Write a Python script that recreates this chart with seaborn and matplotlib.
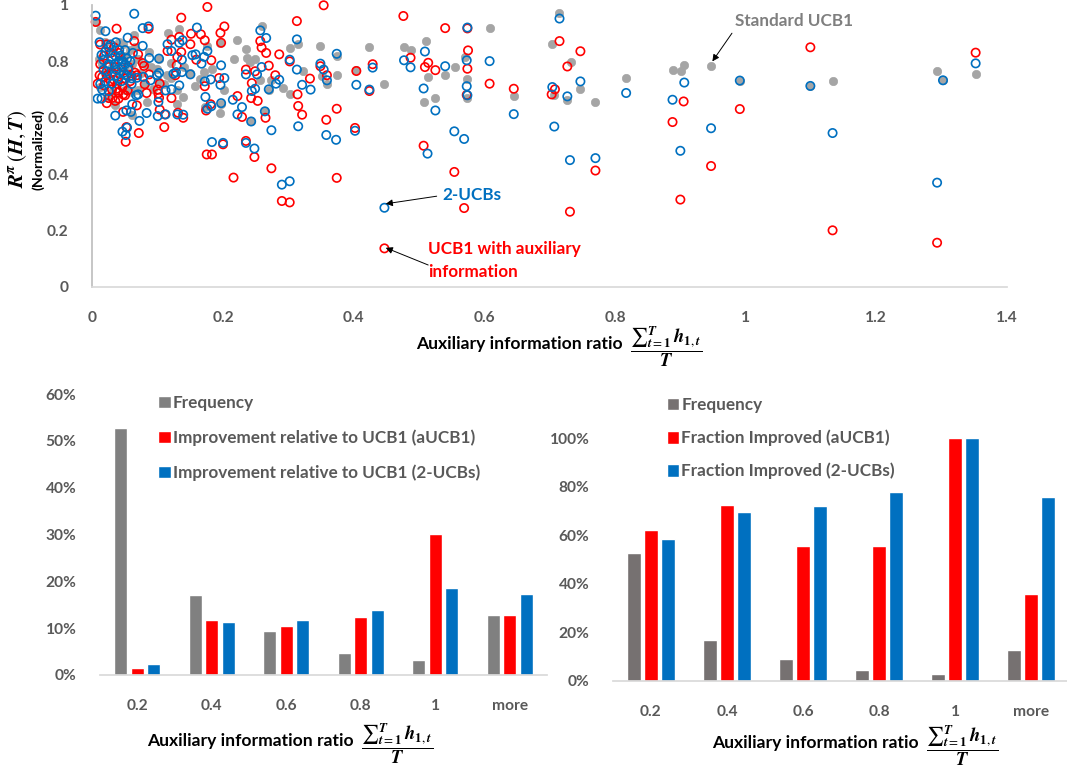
import pandas as pd
import seaborn as sns
import matplotlib.pyplot as plt
from matplotlib.ticker import PercentFormatter

# Top scatter: x = auxiliary information ratio, y = normalized regret
gris_x = [.005, .012, .064, .115, .133, .259, .222, .235, .302, .349, .314, .176, .196, .236, .249, .242, .216, .086,
          .102, .121, .183, .171, .165, .157, .139, .129, .114, .099, .083, .093, .202, .196, .173, .197, .243, .264,
          .257, .270, .273, .291, .302, .322, .359, .351, .374, .374, .035, .060, .022, .047, .058, .037,
          .02, .03, .04, .01, .015, .02, .03, .04, .05, .06, .07, .075, .08, .06, .07, .05, .03, .05, .012, .04,
          .065, .08, .09, .1, .11, .12, .14, .15, .13,
          .715, .608, .510, .424, .477, .487, .704, .570, .732, .555, .573, .514, .540, .404, .447, .747, .525, .507,
          .574, .645, .707, .727, .770, .817, .888, .901, .906,
          .947, .991, 1.099, 1.133, 1.293, 1.302, 1.352]
gris_y = [.940, .910, .892, .901, .916, .924, .875, .843, .848, .853, .863, .853, .865, .813, .810, .798, .809, .833,
          .810, .794, .774, .762, .736, .713, .674, .650, .753, .774, .656, .703, .700, .617, .638, .650, .587, .624,
          .733, .700, .733, .707, .686, .765, .721, .747, .751, .818, .644, .609, .674, .863, .839, .768,
          .87, .84, .87, .81, .79, .76, .78, .76, .77, .79, .81, .76, .72, .69, .70, .70, .69, .82, .71, .82,
          .85, .79, .78, .73, .72, .74, .78, .76, .70,
          .972, .918, .871, .851, .850, .842, .863, .816, .799, .781, .739, .746, .752, .771, .719, .701, .669, .655,
          .670, .676, .681, .664, .655, .741, .770, .766, .788,
          .784, .732, .713, .730, .766, .733, .754]

rojo_x = [.005, .037, .086, .136, .176, .202, .196, .197, .354, .313, .257, .259, .266, .286, .302, .270, .151, .166,
          .172, .133, .121, .150, .136, .115, .159, .182, .064, .070, .077, .079, .130, .129, .127, .103, .194, .235,
          .249, .244, .280, .349, .359, .333, .314, .315, .321, .374, .358, .374, .172, .222, .243, .253, .265, .229,
          .174, .181, .139, .131, .121, .110, .111, .103, .101, .100, .102, .083, .080, .087, .068, .071, .068, .052,
          .051, .047, .054, .047, .022, .037, .031, .040, .008, .011, .175, .183, .200, .235, .248, .216, .274, .290,
          .302,
          .012, .018, .022, .028, .033, .04, .045, .025, .03, .035, .022, .028, .033, .038, .042, .05, .055, .06,
          .065, .058, .03, .04, .046, .015, .018, .025, .035, .05, .012,
          .476, .540, .574, .715, .747, .575, .487, .514, .509, .525, .574, .429, .404, .424, .608, .645, .727, .708,
          .703, .573, .905, .888, .402, .507, .554, .770, .569, .731, .900, .447,
          1.099, .991, .947, 1.133, 1.293, 1.352]
rojo_y = [.940, .916, .916, .955, .993, .924, .901, .866, .999, .943, .872, .849, .830, .825, .800, .785, .898, .896,
          .875, .887, .877, .861, .833, .837, .806, .804, .872, .825, .794, .784, .816, .786, .751, .721, .741, .771,
          .765, .723, .751, .783, .751, .739, .683, .642, .611, .632, .593, .387, .712, .677, .670, .660, .600, .603,
          .626, .648, .600, .618, .670, .567, .612, .629, .686, .700, .671, .688, .719, .754, .751, .546, .644, .567,
          .515, .621, .697, .683, .652, .703, .671, .668, .721, .751, .470, .470, .506, .518, .461, .388, .421, .305,
          .300,
          .79, .82, .86, .83, .85, .83, .80, .78, .76, .78, .75, .73, .735, .72, .755, .74, .78, .75,
          .76, .73, .70, .69, .71, .745, .715, .67, .66, .68, .86,
          .961, .918, .917, .872, .836, .839, .813, .795, .780, .769, .774, .790, .766, .695, .721, .703, .782, .701,
          .683, .681, .658, .585, .564, .501, .408, .413, .280, .267, .310, .137,
          .850, .631, .429, .201, .157, .831]

azul_x = [.005, .064, .020, .077, .086, .011, .036, .054, .077, .160, .115, .121, .133, .138, .137, .153, .158, .171,
          .176, .167, .197, .257, .266, .259, .302, .313, .313, .349, .354, .359, .374, .087, .102, .102, .124, .128,
          .137, .150, .068, .078, .089, .099, .112, .121, .133, .101, .100, .112, .130, .139, .172, .181, .202, .196,
          .173, .176, .182, .197, .215, .229, .222, .243, .264, .274, .315, .358, .373, .235, .252, .244, .249, .270,
          .281, .286, .321, .334, .183, .200, .235, .248, .290, .302, .070, .067, .008, .014, .035, .059, .052, .061,
          .072, .083, .046, .053, .051,
          .014, .017, .020, .025, .030, .034, .037, .040, .043, .045, .048, .050, .053, .035, .040, .045, .030, .020,
          .015, .025, .058, .062, .055, .060, .028, .017, .022, .050, .041, .012, .025, .06, .035, .047, .052,
          .574, .715, .509, .477, .487, .540, .573, .608, .429, .404, .424, .507, .573, .574, .704, .727, .747, .817,
          .906, .888, .525, .645, .402, .554, .569, .707, .513, .731, .770, .900, .447,
          .991, 1.099, .947, 1.133, 1.293, 1.302, 1.352]
azul_y = [.962, .969, .907, .918, .924, .868, .868, .884, .855, .920, .861, .837, .866, .875, .806, .822, .825, .816,
          .837, .792, .786, .910, .883, .780, .806, .878, .771, .792, .771, .733, .827, .812, .810, .759, .756, .762,
          .762, .754, .742, .745, .733, .751, .697, .701, .715, .656, .606, .612, .612, .611, .729, .736, .741, .717,
          .674, .632, .641, .652, .664, .638, .612, .587, .623, .556, .570, .539, .522, .754, .754, .695, .703, .701,
          .721, .735, .717, .700, .514, .511, .511, .491, .363, .375, .683, .680, .668, .668, .608, .621, .626, .648,
          .589, .617, .551, .565, .539,
          .823, .805, .835, .79, .81, .79, .77, .80, .82, .78, .76, .79, .81, .75, .74, .73, .72, .73,
          .70, .695, .80, .83, .77, .74, .86, .77, .765, .84, .84, .72, .85, .72, .82, .80, .75,
          .920, .952, .835, .804, .779, .783, .804, .801, .778, .717, .700, .704, .712, .680, .709, .676, .729, .688,
          .725, .664, .626, .613, .554, .552, .525, .569, .473, .450, .457, .483, .281,
          .732, .713, .563, .546, .370, .733, .793]

# Bar charts
categorias = ["0.2", "0.4", "0.6", "0.8", "1", "more"]

frecuencia = [52.7, 17.0, 9.3, 4.6, 3.1, 12.9]
mejora_aucb = [1.6, 11.7, 10.4, 12.4, 30.2, 12.9]
mejora_2ucb = [2.3, 11.4, 11.8, 13.9, 18.6, 17.3]

frecuencia_b = [52.6, 17.0, 9.2, 4.5, 3.0, 12.9]
fraccion_aucb = [62.3, 72.6, 55.5, 55.5, 100, 35.8]
fraccion_2ucb = [58.4, 69.6, 72.0, 77.7, 100, 75.9]

ROJO = "#FF0000"
AZUL = "#0070C0"
TEXTO = "#595959"
FUENTE = "Lato"
W, H = 1067, 767

sns.set_theme(style="white")
plt.rcParams["font.family"] = [FUENTE, "DejaVu Sans"]
plt.rcParams["mathtext.fontset"] = "stix"

FRACCION = r"$\dfrac{{\sum}_{\mathbfit{t}=\mathbf{1}}^{\mathbfit{T}}\,\mathbfit{h}_{\mathbf{1},\mathbfit{t}}}{\mathbfit{T}}$"


def ejes_px(fig, izq, der, arriba, abajo):
    # Axes placed from the pixel box measured on the reference
    return fig.add_axes([izq / W, 1 - abajo / H, (der - izq) / W, (abajo - arriba) / H])


def poner_etiqueta(fig, x, y):
    fig.text(x / W, 1 - y / H, "Auxiliary information ratio", fontsize=12.6, fontweight="bold", color="black",
             va="center")
    fig.text((x + 214) / W, 1 - (y + 3) / H, FRACCION, fontsize=13.4, color="black", va="center")


def graficar_barras(ax, valores, nombres, colores, ymax, paso):
    df = pd.DataFrame({"cat": categorias * 3,
                       "serie": sum([[n] * len(categorias) for n in nombres], []),
                       "valor": sum(valores, [])})
    sns.barplot(data=df, x="cat", y="valor", hue="serie", palette=colores, ax=ax, width=0.665, gap=0.19,
                saturation=1, errorbar=None)
    ax.set_ylim(0, ymax)
    ax.set_xlim(-0.5, 5.5)
    ax.set_yticks(range(0, ymax + 1, paso))
    ax.yaxis.set_major_formatter(PercentFormatter(decimals=0))
    ax.set_xlabel("")
    ax.set_ylabel("")
    ax.tick_params(left=False, bottom=False, pad=11, labelsize=11.2, labelcolor=TEXTO)
    for t in ax.get_xticklabels() + ax.get_yticklabels():
        t.set_fontweight("bold")
    sns.despine(ax=ax, left=True)
    ax.spines["bottom"].set_color("#D9D9D9")
    ax.patch.set_alpha(0)


fig = plt.figure(figsize=(W / 100, H / 100), dpi=100)

# Scatter
ax = ejes_px(fig, 92.4, 1007, 5, 287)
estilo = dict(s=36, clip_on=False, ax=ax, legend=False)
sns.scatterplot(x=gris_x, y=gris_y, color="#A5A5A5", edgecolor="#A5A5A5", linewidth=0.5, **estilo)
sns.scatterplot(x=rojo_x, y=rojo_y, facecolor="none", edgecolor=ROJO, linewidth=1.2, **estilo)
sns.scatterplot(x=azul_x, y=azul_y, facecolor="none", edgecolor=AZUL, linewidth=1.2, **estilo)
ax.set_xlim(0, 1.4)
ax.set_ylim(0, 1)
ax.set_xticks([0, 0.2, 0.4, 0.6, 0.8, 1, 1.2, 1.4], ["0", "0.2", "0.4", "0.6", "0.8", "1", "1.2", "1.4"])
ax.set_yticks([0, 0.2, 0.4, 0.6, 0.8, 1], ["0", "0.2", "0.4", "0.6", "0.8", "1"])
ax.tick_params(left=False, bottom=False, pad=11, labelsize=11.2, labelcolor=TEXTO)
for t in ax.get_xticklabels() + ax.get_yticklabels():
    t.set_fontweight("bold")
sns.despine(ax=ax)
ax.spines["left"].set_color("#BFBFBF")
ax.spines["bottom"].set_color("#D9D9D9")

flecha = dict(arrowstyle="-|>", color="black", lw=0.7, shrinkA=0, shrinkB=0, mutation_scale=10)
ax.annotate("", xy=(0.449, 0.295), xytext=(0.527, 0.322), arrowprops=flecha)
ax.annotate("", xy=(0.449, 0.139), xytext=(0.514, 0.078), arrowprops=flecha)
ax.annotate("", xy=(0.949, 0.80), xytext=(0.979, 0.90), arrowprops=flecha)
ax.text(0.535, 0.326, "2-UCBs", color=AZUL, fontsize=12.3, fontweight="bold", va="center")
ax.text(0.514, 0.136, "UCB1 with auxiliary", color=ROJO, fontsize=12.3, fontweight="bold", va="center")
ax.text(0.514, 0.053, "information", color=ROJO, fontsize=12.3, fontweight="bold", va="center")
ax.text(0.984, 0.942, "Standard UCB1", color="#7F7F7F", fontsize=12.3, fontweight="bold", va="center")

poner_etiqueta(fig, 416, 344)
fig.text(18 / W, 1 - 149 / H, r"$\mathbfit{R}^{\mathbfit{\pi}}\,(\mathbfit{H},\mathbfit{T})$", rotation=90,
         fontsize=15, color="black", va="center", ha="center")
fig.text(38 / W, 1 - 150 / H, "(Normalized)", rotation=90, fontsize=10.3, fontweight="bold", color="black",
         va="center", ha="center")

# Bars, left
ax_izq = ejes_px(fig, 100, 547, 394, 675)
nombres_izq = ["Frequency", "Improvement relative to UCB1 (aUCB1)", "Improvement relative to UCB1 (2-UCBs)"]
graficar_barras(ax_izq, [frecuencia, mejora_aucb, mejora_2ucb], nombres_izq, ["#808080", ROJO, AZUL], 60, 10)

# Bars, right
ax_der = ejes_px(fig, 613, 1069, 438, 681)
nombres_der = ["Frequency", "Fraction Improved (aUCB1)", "Fraction Improved (2-UCBs)"]
graficar_barras(ax_der, [frecuencia_b, fraccion_aucb, fraccion_2ucb], nombres_der, ["#767171", ROJO, AZUL], 100, 20)

for eje, x0, y0, sep in [(ax_izq, 153, 390, 1.07), (ax_der, 661.5, 392, 0.97)]:
    eje.legend(loc="upper left", bbox_to_anchor=(x0 / W, 1 - y0 / H), bbox_transform=fig.transFigure, frameon=False,
               labelcolor=TEXTO, handlelength=0.75, handleheight=0.75, handletextpad=0.1,
               labelspacing=sep, borderpad=0, borderaxespad=0.3, prop=dict(family=FUENTE, weight="bold", size=12.3))

poner_etiqueta(fig, 147, 741)
poner_etiqueta(fig, 712, 743)

fig.savefig("out.png", dpi=100)
